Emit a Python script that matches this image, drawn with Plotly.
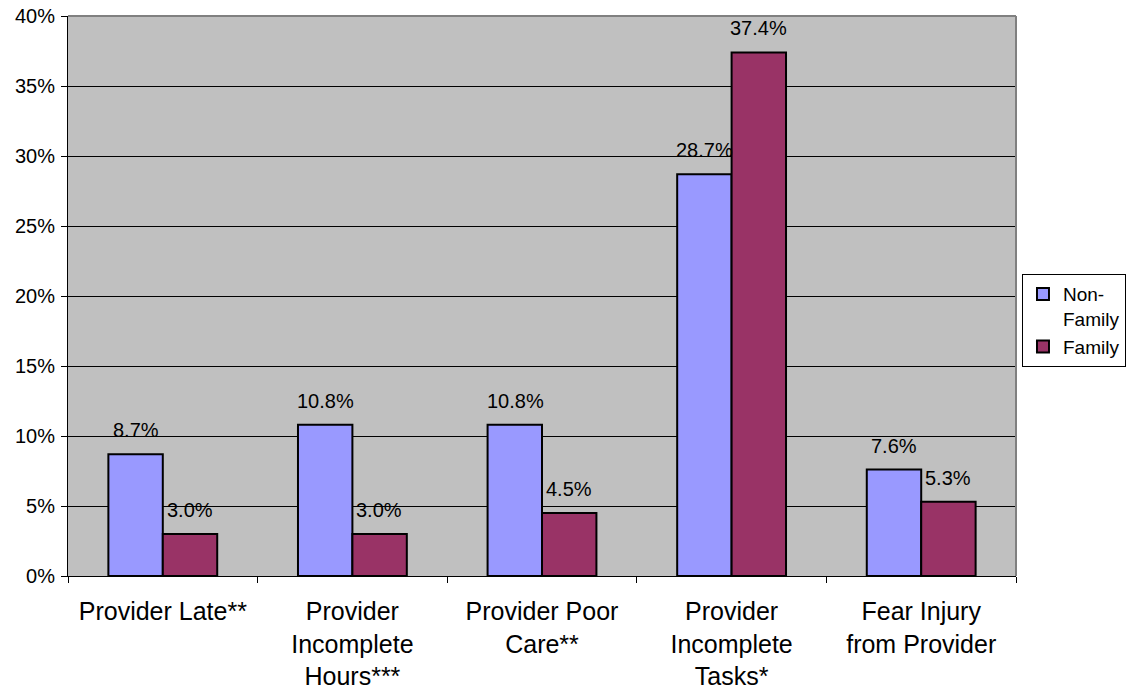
import plotly.graph_objects as go

categories = [
    "Provider Late**",
    "Provider<br>Incomplete<br>Hours***",
    "Provider Poor<br>Care**",
    "Provider<br>Incomplete<br>Tasks*",
    "Fear Injury<br>from Provider",
]
non_family = [8.7, 10.8, 10.8, 28.7, 7.6]
family = [3.0, 3.0, 4.5, 37.4, 5.3]
y_ticks = [0, 5, 10, 15, 20, 25, 30, 35, 40]
y_tick_labels = ["0%", "5%", "10%", "15%", "20%", "25%", "30%", "35%", "40%"]

FONT = "Liberation Sans, Arial, sans-serif"
bar_line = dict(color="black", width=2)

fig = go.Figure()
fig.add_trace(go.Bar(
    name="Non-<br>Family", x=categories, y=non_family,
    marker=dict(color="#9999FF", line=bar_line),
))
fig.add_trace(go.Bar(
    name="Family", x=categories, y=family,
    marker=dict(color="#993366", line=bar_line),
))

# value labels above each bar, shifted onto its half of the group
annotations = []
for vals, shift in ((non_family, -27), (family, 27)):
    for cat, v in zip(categories, vals):
        annotations.append(dict(
            x=cat, y=v, xref="x", yref="y", text=f"{v:.1f}%",
            showarrow=False, xshift=shift, yshift=24, yanchor="middle",
            font=dict(family=FONT, size=20, color="black"),
        ))

fig.update_layout(
    width=1147, height=692,
    margin=dict(l=68, r=131, t=16, b=116, autoexpand=False),
    paper_bgcolor="white", plot_bgcolor="#C0C0C0",
    barmode="group", bargap=0.426, bargroupgap=0,
    font=dict(family=FONT, size=20, color="black"),
    showlegend=True,
    legend=dict(
        x=1.0063, xanchor="left", y=0.539, yanchor="top",
        bgcolor="white", bordercolor="black", borderwidth=1,
        font=dict(family=FONT, size=19, color="black"),
        valign="top", tracegroupgap=0, itemwidth=30,
    ),
    annotations=annotations,
    shapes=[
        dict(type="line", xref="paper", yref="paper", x0=0, x1=1, y0=1, y1=1,
             line=dict(color="#808080", width=2), layer="above"),
        dict(type="line", xref="paper", yref="paper", x0=1, x1=1, y0=0, y1=1,
             line=dict(color="#808080", width=2), layer="above"),
    ],
)
fig.update_xaxes(
    automargin=False,
    showline=True, linecolor="black", linewidth=1,
    ticks="outside", tickson="boundaries", ticklen=6, tickcolor="black",
    tickfont=dict(family=FONT, size=25, color="black"),
    ticklabelstandoff=13,
    showgrid=False,
)
fig.update_yaxes(
    automargin=False,
    range=[0, 40], tickmode="array", tickvals=y_ticks, ticktext=y_tick_labels,
    showline=True, linecolor="black", linewidth=1,
    ticks="outside", ticklen=6, tickcolor="black",
    tickfont=dict(family=FONT, size=20, color="black"),
    ticklabelstandoff=2,
    showgrid=True, gridcolor="black", gridwidth=1, zeroline=False,
)

fig.write_html("out.html")
